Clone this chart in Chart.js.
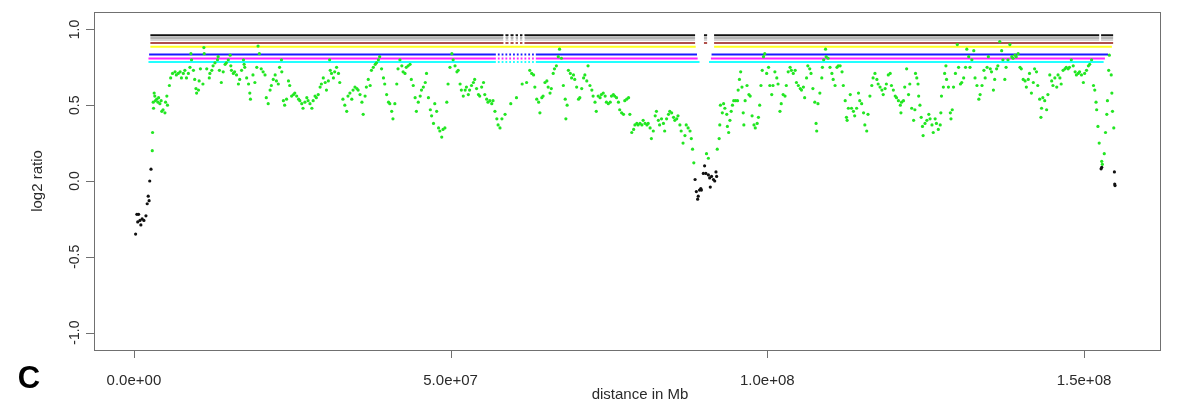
<!DOCTYPE html>
<html>
<head>
<meta charset="utf-8">
<script src="https://cdn.jsdelivr.net/npm/chart.js@4.4.0/dist/chart.umd.min.js"></script>
<style>
html,body{margin:0;padding:0;background:#fff;}
#wrap{width:1193px;height:405px;}
</style>
</head>
<body>
<div id="wrap"><canvas id="cnv" width="1193" height="405"></canvas></div>
<script>
// probe positions in Mb, log2 ratio per probe
var greenPts = [
[2.9,0.20],[2.95,0.32],[3.05,0.52],[3.1,0.48],[3.2,0.58],[3.3,0.56],[3.4,0.53],[3.6,0.54],[3.8,0.52],[3.9,0.55],[4.1,0.51],[4.3,0.53],[4.4,0.46],[4.6,0.47],[4.9,0.45],[5.0,0.52],[5.2,0.56],[5.3,0.50],
[5.6,0.63],[5.8,0.68],[6.1,0.71],[6.5,0.72],[6.7,0.70],[7.0,0.71],[7.3,0.72],[7.5,0.68],[7.8,0.71],[8.05,0.73],[8.3,0.68],[8.6,0.71],[8.85,0.75],[9.0,0.84],[9.1,0.80],[9.4,0.73],[9.6,0.67],[9.8,0.61],[9.9,0.58],[10.2,0.60],[10.3,0.66],[10.5,0.74],[10.9,0.64],[11.05,0.88],[11.1,0.84],[11.5,0.74],[11.9,0.68],[12.0,0.71],[12.3,0.73],[12.5,0.76],[12.8,0.78],[13.2,0.80],[13.3,0.82],[13.5,0.73],[13.8,0.65],[14.1,0.72],[14.4,0.77],[14.6,0.78],[14.9,0.80],[15.2,0.83],[15.3,0.76],[15.4,0.73],[15.7,0.71],[15.9,0.72],[16.2,0.70],[16.5,0.64],[16.7,0.67],[17.0,0.73],[17.3,0.80],[17.4,0.77],[17.5,0.75],[17.8,0.68],[18.1,0.64],[18.3,0.58],[18.4,0.54],[18.8,0.70],[19.1,0.65],[19.4,0.75],[19.6,0.89],[19.8,0.84],[20.1,0.74],[20.4,0.72],[20.7,0.70],[20.9,0.55],[21.2,0.51],[21.5,0.60],[21.7,0.63],[22.0,0.67],[22.3,0.70],[22.5,0.66],[22.8,0.64],[23.0,0.75],[23.3,0.80],[23.35,0.72],[23.6,0.53],[23.8,0.50],[24.1,0.54],[24.4,0.66],[24.6,0.63],[24.9,0.56],[25.2,0.57],[25.4,0.58],[25.7,0.56],[26.0,0.54],[26.2,0.53],[26.5,0.51],[26.7,0.48],[27.0,0.52],[27.3,0.55],[27.5,0.53],[27.8,0.51],[28.1,0.48],[28.3,0.53],[28.6,0.56],[28.8,0.55],[29.1,0.57],[29.4,0.62],[29.6,0.64],[29.9,0.68],[30.2,0.65],[30.4,0.60],[30.7,0.66],[30.9,0.80],[31.0,0.73],[31.2,0.71],[31.5,0.68],[31.7,0.72],[32.0,0.75],[32.3,0.71],[32.5,0.65],[33.0,0.54],[33.3,0.50],[33.6,0.46],[33.8,0.56],[34.1,0.58],[34.4,0.54],[34.6,0.60],[34.9,0.62],[35.2,0.61],[35.4,0.60],[35.7,0.57],[36.0,0.52],[36.2,0.44],[36.5,0.56],[36.7,0.62],[37.0,0.67],[37.3,0.63],[37.5,0.73],[37.8,0.75],[38.1,0.77],[38.3,0.78],[38.6,0.80],[38.8,0.82],[39.1,0.74],[39.4,0.68],[39.6,0.64],[39.9,0.57],[40.2,0.52],
[40.4,0.51],[40.7,0.46],[40.9,0.41],[41.2,0.51],[41.5,0.64],[41.7,0.74],[42.0,0.80],[42.3,0.76],[42.5,0.72],[42.8,0.71],[43.0,0.75],[43.3,0.76],[43.6,0.77],[43.8,0.67],[44.1,0.63],[44.4,0.55],[44.6,0.46],[44.9,0.52],[45.2,0.56],[45.4,0.60],[45.7,0.62],[46.0,0.65],[46.2,0.71],[46.5,0.55],[46.8,0.47],[47.0,0.43],[47.3,0.38],[47.5,0.51],[47.8,0.46],[48.1,0.35],[48.3,0.33],[48.6,0.29],[48.8,0.34],[49.1,0.35],[49.4,0.52],[49.6,0.64],[49.9,0.75],[50.2,0.84],[50.4,0.80],[50.7,0.76],[51.0,0.72],[51.2,0.73],[51.5,0.64],[51.7,0.60],[52.0,0.56],[52.3,0.60],[52.5,0.62],[52.8,0.57],[53.0,0.60],[53.3,0.63],[53.6,0.65],[53.8,0.67],[54.1,0.61],[54.4,0.57],[54.6,0.56],[54.9,0.62],[55.2,0.65],[55.4,0.57],[55.7,0.54],[55.9,0.52],[56.2,0.53],[56.5,0.51],[56.7,0.53],[57.0,0.46],[57.3,0.41],[57.5,0.37],[57.8,0.35],[58.1,0.41],[58.6,0.44],[59.5,0.51],[60.4,0.55],[61.3,0.64],[62.0,0.65],[62.5,0.73],[62.8,0.71],[63.1,0.70],[63.3,0.62],[63.6,0.54],[63.9,0.52],[64.1,0.45],[64.4,0.55],[64.6,0.56],[64.9,0.65],[65.2,0.66],[65.4,0.62],[65.7,0.58],[65.9,0.61],[66.2,0.71],[66.4,0.74],[66.7,0.76],[67.0,0.82],[67.2,0.87],[67.5,0.81],[67.8,0.63],[68.1,0.54],[68.2,0.41],[68.4,0.50],[68.6,0.73],[68.9,0.71],[69.1,0.68],[69.4,0.70],[69.6,0.67],[69.9,0.62],[70.2,0.54],[70.4,0.55],[70.7,0.61],[71.0,0.68],[71.2,0.70],[71.5,0.66],[71.7,0.76],[72.0,0.63],[72.3,0.60],[72.5,0.56],[72.8,0.52],[73.0,0.46],[73.3,0.56],[73.6,0.55],[73.8,0.57],[74.1,0.58],[74.4,0.56],[74.6,0.52],[74.9,0.51],[75.2,0.52],[75.4,0.56],[75.7,0.57],[75.9,0.56],[76.2,0.55],[76.5,0.52],[76.7,0.47],[77.0,0.45],[77.3,0.44],[77.5,0.53],[77.8,0.54],[78.1,0.55],[78.3,0.44],[78.6,0.32],[78.9,0.34],[79.1,0.37],[79.4,0.38],[79.6,0.37],
[79.9,0.38],[80.2,0.37],[80.4,0.40],[80.7,0.38],[81.0,0.37],[81.2,0.38],[81.5,0.35],[81.7,0.28],[82.0,0.33],[82.3,0.43],[82.5,0.46],[82.8,0.40],[83.0,0.37],[83.3,0.41],[83.6,0.38],[83.8,0.33],[84.1,0.41],[84.4,0.44],[84.6,0.46],[84.9,0.45],[85.2,0.42],[85.4,0.40],[85.7,0.41],[85.9,0.43],[86.2,0.37],[86.4,0.33],[86.7,0.25],[87.0,0.30],[87.2,0.37],[87.5,0.35],[87.8,0.33],[88.0,0.28],[88.2,0.21],[88.4,0.12],[90.4,0.18],[90.7,0.15],
[92.1,0.21],[92.4,0.28],[92.5,0.37],[92.6,0.50],[92.9,0.45],[93.1,0.51],[93.3,0.48],[93.6,0.44],[93.7,0.36],[93.9,0.32],[94.1,0.40],[94.3,0.46],[94.5,0.50],[94.7,0.53],[95.0,0.53],[95.3,0.53],[95.4,0.60],[95.6,0.67],[95.8,0.72],[96.0,0.62],[96.2,0.45],[96.3,0.37],[96.5,0.53],[96.8,0.63],[97.1,0.57],[97.3,0.56],[97.6,0.43],[97.9,0.37],[98.1,0.35],[98.4,0.38],[98.6,0.42],[98.8,0.50],[99.0,0.63],[99.2,0.73],[99.4,0.82],[99.6,0.84],[99.9,0.71],[100.2,0.75],[100.4,0.63],[100.7,0.57],[100.9,0.63],[101.2,0.72],[101.5,0.68],[101.7,0.64],[102.0,0.46],[102.2,0.51],[102.5,0.57],[102.8,0.56],[103.0,0.63],[103.3,0.72],[103.6,0.75],[103.8,0.73],[104.1,0.71],[104.4,0.73],[104.6,0.65],[104.9,0.63],[105.2,0.61],[105.4,0.60],[105.7,0.62],[105.9,0.55],[106.2,0.68],[106.4,0.76],[106.7,0.74],[106.9,0.71],[107.2,0.61],[107.5,0.52],[107.7,0.38],[107.8,0.33],[108.0,0.51],[108.3,0.58],[108.6,0.68],[108.7,0.75],[108.9,0.80],[109.2,0.87],[109.3,0.82],[109.6,0.81],[109.9,0.75],[110.2,0.71],[110.4,0.67],[110.7,0.63],[111.0,0.75],[111.2,0.76],[111.5,0.76],[111.8,0.72],[112.0,0.63],[112.3,0.53],[112.5,0.42],[112.6,0.40],[112.8,0.48],[113.1,0.57],[113.3,0.48],[113.6,0.46],[113.8,0.43],[114.1,0.48],[114.4,0.58],[114.6,0.53],[114.9,0.51],[115.2,0.45],[115.4,0.37],[115.7,0.33],[115.9,0.44],[116.2,0.56],[116.5,0.63],[116.7,0.68],[117.0,0.71],[117.3,0.67],[117.5,0.64],[117.8,0.62],[118.1,0.60],[118.3,0.57],[118.6,0.61],[118.8,0.64],[119.1,0.70],[119.4,0.71],[119.6,0.63],[119.9,0.60],
[120.2,0.56],[120.4,0.55],[120.7,0.53],[121.0,0.50],[121.1,0.45],[121.2,0.52],[121.5,0.53],[121.7,0.62],[122.0,0.74],[122.3,0.57],[122.5,0.64],[122.8,0.48],[123.1,0.40],[123.3,0.47],[123.4,0.71],[123.6,0.68],[123.8,0.64],[123.9,0.56],[124.1,0.50],[124.3,0.42],[124.5,0.36],[124.6,0.30],[124.9,0.38],[125.2,0.40],[125.5,0.44],[125.7,0.41],[126.0,0.37],[126.2,0.32],[126.5,0.41],[126.7,0.38],[127.0,0.34],[127.3,0.37],[127.4,0.45],[127.5,0.56],[127.8,0.62],[128.0,0.71],[128.2,0.76],[128.3,0.67],[128.6,0.62],[128.9,0.45],[129.0,0.41],[129.2,0.47],[129.4,0.62],[129.7,0.71],[130.0,0.90],[130.2,0.75],[130.5,0.64],[130.7,0.65],[131.0,0.68],[131.3,0.75],[131.5,0.87],[131.8,0.82],[132.0,0.75],[132.3,0.80],[132.6,0.86],[132.8,0.68],[133.1,0.63],[133.4,0.54],[133.6,0.57],[133.9,0.63],[134.2,0.73],[134.4,0.68],[134.7,0.75],[134.9,0.82],[135.2,0.74],[135.4,0.72],[135.7,0.60],[135.9,0.67],[136.2,0.74],[136.4,0.76],[136.7,0.92],[137.0,0.86],[137.2,0.80],[137.5,0.67],[137.7,0.75],[138.0,0.80],[138.3,0.90],[138.6,0.82],[138.8,0.81],[139.1,0.83],[139.3,0.82],[139.6,0.84],[139.9,0.75],[140.1,0.74],[140.4,0.67],[140.7,0.66],[140.9,0.62],[141.2,0.67],[141.4,0.71],[141.7,0.58],[142.0,0.65],[142.2,0.74],[142.5,0.72],[142.7,0.63],[143.0,0.54],[143.2,0.42],[143.3,0.48],[143.5,0.55],[143.8,0.53],[144.1,0.47],[144.3,0.57],[144.6,0.70],[144.9,0.66],[145.1,0.63],[145.4,0.68],[145.7,0.62],[145.9,0.70],[146.2,0.68],[146.4,0.64],[146.7,0.73],[147.0,0.74],[147.2,0.75],[147.5,0.74],[147.7,0.75],[148.0,0.80],[148.3,0.76],[148.6,0.72],[148.8,0.70],[149.1,0.71],[149.3,0.72],[149.6,0.70],[149.9,0.65],[150.1,0.71],[150.4,0.73],[150.7,0.76],[150.9,0.77],[151.2,0.80],[151.5,0.63],[151.7,0.60],[151.9,0.52],[152.0,0.47],[152.2,0.36],[152.4,0.25],[152.8,0.13],[152.9,0.11],[153.2,0.18],[153.4,0.32],[153.6,0.44],[153.7,0.53],[153.9,0.73],[154.0,0.83],[154.3,0.70],[154.4,0.58],[154.5,0.46],[154.7,0.35]
]

// probes called as not gained (black)
var blackPts = [
[0.27,-0.35],[0.47,-0.22],[0.6,-0.27],[0.74,-0.22],[0.95,-0.26],[1.1,-0.29],[1.3,-0.25],[1.58,-0.26],[1.9,-0.23],[2.1,-0.15],[2.26,-0.10],[2.4,-0.13],[2.5,0.0],[2.7,0.078],
[88.6,0.01],[88.8,-0.07],[89.0,-0.12],[89.1,-0.10],[89.3,-0.06],[89.5,-0.05],[89.6,-0.06],[89.9,0.05],[90.1,0.10],[90.3,0.05],[90.7,0.04],[90.9,0.02],[91.0,-0.04],[91.2,0.03],[91.5,0.01],[91.7,0.00],[91.9,0.06],[92.0,0.03],
[152.7,0.08],[152.8,0.09],[154.8,0.06],[154.85,-0.02],[154.9,-0.03]
]

// one row per caller: level drawn, colour, called runs in Mb
var segLevels = [0.962, 0.944, 0.931, 0.911, 0.885, 0.835, 0.808, 0.785]
var segColors = ['#111111', '#b4b4b4', '#d4d4d4', '#b0504a', '#ffff22', '#1a1aff', '#ff22ff', '#22ffff']
var segRuns = [
	[[2.6,88.6],[90.0,90.5],[91.6,152.4],[152.7,154.6]],
	[[2.6,88.6],[90.0,90.5],[91.6,152.4],[152.7,154.6]],
	[[2.6,88.6],[90.0,90.5],[91.6,152.4],[152.7,154.6]],
	[[2.6,88.6],[90.0,90.5],[91.6,154.6]],
	[[2.6,88.7],[91.6,154.4]],
	[[2.4,88.9],[91.2,153.8]],
	[[2.3,89.0],[91.1,153.3]],
	[[2.3,89.3],[90.8,153.1]]
]

// white no-probe ticks over the upper and lower rows
var gapTopMb = [58.5, 59.3, 60.1, 60.8, 61.5]
var gapLowMb = [57.3, 57.9, 58.5, 59.1, 59.7, 60.3, 60.9, 61.5, 62.1, 62.7, 63.3]

var xTicks = [0, 5e7, 1e8, 1.5e8]
var yTicks = [-1, -0.5, 0, 0.5, 1]

function toXY(list){
	return list.map(function(p){ return {x: p[0]*1e6, y: p[1]} })
}

function sciLabel(v){
	var s = v.toExponential(1)
	var parts = s.split('e')
	var sign = parts[1][0] == '-' ? '-' : '+'
	var exp = parts[1].replace(/[+-]/, '')
	if(exp.length < 2) exp = '0' + exp
	return parts[0] + 'e' + sign + exp
}

var datasets = []

datasets.push({
	type: 'scatter', data: toXY(greenPts), order: 0,
	backgroundColor: '#22e622', borderWidth: 0, pointRadius: 1.6
})
datasets.push({
	type: 'scatter', data: toXY(blackPts), order: 0,
	backgroundColor: '#111111', borderWidth: 0, pointRadius: 1.6
})

for(var i = 0; i < segLevels.length; i++){
	var pts = []
	segRuns[i].forEach(function(r){
		pts.push({x: r[0]*1e6, y: segLevels[i]})
		pts.push({x: r[1]*1e6, y: segLevels[i]})
		pts.push({x: r[1]*1e6, y: null})
	})
	datasets.push({
		type: 'line', data: pts, order: 2,
		borderColor: segColors[i], borderWidth: 2, pointRadius: 0, spanGaps: false
	})
}

var whiteTicks = []
gapTopMb.forEach(function(m){ [0,1,2,3].forEach(function(k){ whiteTicks.push([m, segLevels[k]]) }) })
gapLowMb.forEach(function(m){ [5,6,7].forEach(function(k){ whiteTicks.push([m, segLevels[k]]) }) })
datasets.push({
	type: 'scatter', data: toXY(whiteTicks), order: 1,
	pointStyle: 'line', rotation: 90, pointRadius: 2, borderColor: '#ffffff', borderWidth: 2
})

// box, tick marks and axis text, R style
var frame = {
	id: 'frame',
	afterDraw: function(chart){
		var ctx = chart.ctx
		var a = chart.chartArea
		var xs = chart.scales.x, ys = chart.scales.y
		ctx.save()
		ctx.strokeStyle = '#707070'
		ctx.lineWidth = 1
		ctx.strokeRect(Math.round(a.left)+0.5, Math.round(a.top)+0.5, Math.round(a.right-a.left), Math.round(a.bottom-a.top))
		ctx.beginPath()
		xTicks.forEach(function(v){
			var px = Math.round(xs.getPixelForValue(v))+0.5
			ctx.moveTo(px, a.bottom); ctx.lineTo(px, a.bottom+8)
		})
		yTicks.forEach(function(v){
			var py = Math.round(ys.getPixelForValue(v))+0.5
			ctx.moveTo(a.left, py); ctx.lineTo(a.left-8, py)
		})
		ctx.stroke()

		ctx.fillStyle = '#2a2a2a'
		ctx.font = '15px "Liberation Sans", Arial, sans-serif'
		ctx.textAlign = 'center'
		ctx.textBaseline = 'middle'
		xTicks.forEach(function(v){
			ctx.fillText(sciLabel(v), xs.getPixelForValue(v), 381)
		})
		ctx.fillText('distance in Mb', 640, 395)
		ctx.save()
		ctx.translate(38, 181)
		ctx.rotate(-Math.PI/2)
		ctx.fillText('log2 ratio', 0, 0)
		ctx.restore()

		ctx.font = '14px "Liberation Sans", Arial, sans-serif'
		yTicks.forEach(function(v){
			ctx.save()
			ctx.translate(75, ys.getPixelForValue(v))
			ctx.rotate(-Math.PI/2)
			ctx.fillText(v.toFixed(1), 0, 0)
			ctx.restore()
		})

		ctx.fillStyle = '#000'
		ctx.font = 'bold 31px "Liberation Sans", Arial, sans-serif'
		ctx.textBaseline = 'alphabetic'
		ctx.fillText('C', 29, 388)
		ctx.restore()
	}
}

new Chart(document.getElementById('cnv'), {
	type: 'scatter',
	data: {datasets: datasets},
	options: {
		responsive: false,
		animation: false,
		events: [],
		layout: {padding: {left: 0, right: 33, top: 12, bottom: 0}},
		plugins: {legend: {display: false}, tooltip: {enabled: false}},
		scales: {
			x: {
				type: 'linear', min: -6.3e6, max: 1.62e8,
				grid: {display: false}, border: {display: false}, ticks: {display: false},
				afterFit: function(s){ s.height = 55 }
			},
			y: {
				type: 'linear', min: -1.115, max: 1.115,
				grid: {display: false}, border: {display: false}, ticks: {display: false},
				afterFit: function(s){ s.width = 94 }
			}
		}
	},
	plugins: [frame]
})
</script>
</body>
</html>
